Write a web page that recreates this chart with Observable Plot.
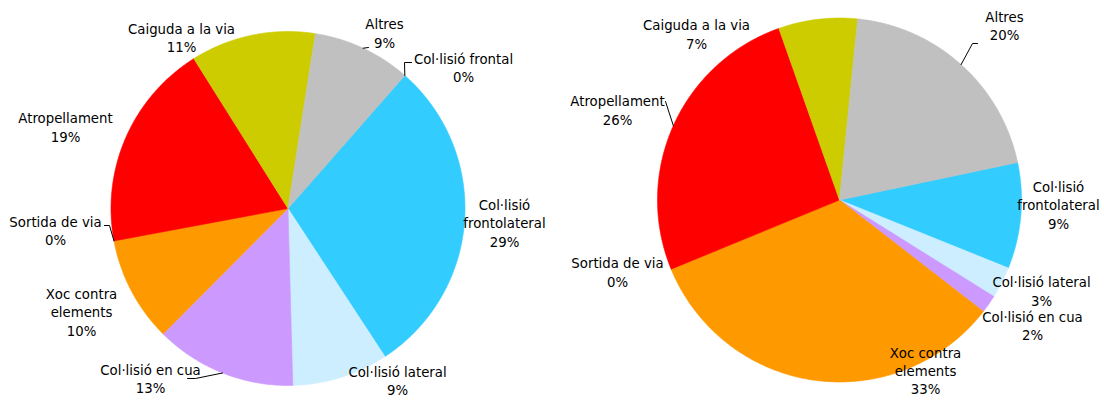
<!DOCTYPE html>
<html>
<head>
<meta charset="utf-8">
<script src="https://cdn.jsdelivr.net/npm/d3@7"></script>
<script src="https://cdn.jsdelivr.net/npm/@observablehq/plot@0.6"></script>
<style>
  html, body { margin: 0; padding: 0; background: #ffffff; }
  #chart svg { display: block; }
</style>
</head>
<body>
<div id="chart"></div>
<script>
// ---------- DATA ----------
const categories = [
  "Col·lisió frontal",
  "Col·lisió frontolateral",
  "Col·lisió lateral",
  "Col·lisió en cua",
  "Xoc contra elements",
  "Sortida de via",
  "Atropellament",
  "Caiguda a la via",
  "Altres"
];
const labelNames = [
  "Col·lisió frontal",
  "Col·lisió\nfrontolateral",
  "Col·lisió lateral",
  "Col·lisió en cua",
  "Xoc contra\nelements",
  "Sortida de via",
  "Atropellament",
  "Caiguda a la via",
  "Altres"
];
// percentages (left pie, right pie); null = not in that chart
const valuesLeft  = [0, 29.3, 8.8, 12.9, 9.6, 0, 19.0, 11.4, 9.0];
const valuesRight = [null, 9.4, 2.8, 1.6, 33.3, 0, 25.8, 7.0, 20.1];

// ---------- STYLE / LAYOUT ----------
const colors = ["#00ccff", "#33ccff", "#cceeff", "#cc99ff", "#ff9900", "#993300", "#ff0000", "#cccc00", "#c0c0c0"];
const W = 1104, H = 401;
const FONT = "DejaVu Sans, Verdana, sans-serif";

const pies = [
  {
    id: "L", cx: 287.5, cy: 208, r: 177, start: 41.3, values: valuesLeft,
    labelPos: [[463, 66.5], [504, 222], [397, 379.5], [150, 377.5], [81, 311], [55, 229.5], [65, 126], [181, 36.5], [384, 32]],
    // leader lines: category index -> extra points after the slice edge point
    leaders: { 0: [[404, 62], [411, 62]], 8: [[368, 47]], 5: [[109, 225], [104, 225]], 3: [[195, 378], [187, 378]] }
  },
  {
    id: "R", cx: 839, cy: 199.5, r: 182, start: 78.1, values: valuesRight,
    labelPos: [null, [1058, 204], [1041, 290], [1032, 324.5], [925, 369.5], [617, 271], [617, 109], [696, 33], [1004, 24.5]],
    leaders: { 8: [[972, 43], [977, 43]], 6: [[665, 101]] }
  }
];

// ---------- GEOMETRY (derived from data) ----------
const rad = d => d * Math.PI / 180;
const polar = (p, angDeg, rr) => [p.cx + rr * Math.sin(rad(angDeg)), p.cy - rr * Math.cos(rad(angDeg))];

const slicePts = [];
const labels = [];
const leaderPts = [];
for (const p of pies) {
  let a = p.start;
  p.values.forEach((v, i) => {
    if (v == null) return;
    const sweep = v / 100 * 360;
    const a0 = a, a1 = a + sweep;
    const key = p.id + i;
    if (sweep > 0) {
      slicePts.push({key, cat: categories[i], x: p.cx, y: p.cy});
      const n = Math.max(2, Math.ceil(sweep / 0.5));
      for (let k = 0; k <= n; k++) {
        const [x, y] = polar(p, a0 + sweep * k / n, p.r);
        slicePts.push({key, cat: categories[i], x, y});
      }
      slicePts.push({key, cat: categories[i], x: p.cx, y: p.cy});
    }
    const mid = (a0 + a1) / 2;
    if (p.labelPos[i]) {
      labels.push({x: p.labelPos[i][0], y: p.labelPos[i][1], text: `${labelNames[i]}\n${Math.round(v)}%`});
    }
    if (p.leaders[i]) {
      const [ex, ey] = polar(p, mid, p.r);
      leaderPts.push({key, x: ex, y: ey});
      for (const [x, y] of p.leaders[i]) leaderPts.push({key, x, y});
    }
    a = a1;
  });
}

const chart = Plot.plot({
  width: W,
  height: H,
  margin: 0,
  style: { background: "#ffffff", fontFamily: FONT },
  x: { domain: [0, W], range: [0, W], axis: null },
  y: { domain: [0, H], range: [0, H], axis: null },
  color: { domain: categories, range: colors, type: "ordinal" },
  marks: [
    Plot.line(slicePts, { x: "x", y: "y", z: "key", fill: "cat", stroke: "cat", strokeWidth: 0.6, curve: "linear" }),
    Plot.line(leaderPts, { x: "x", y: "y", z: "key", stroke: "#000000", strokeWidth: 1, curve: "linear" }),
    Plot.text(labels, { x: "x", y: "y", text: "text", fontSize: 13.3, fontFamily: FONT, lineHeight: 1.38, fill: "#000000", textAnchor: "middle" })
  ]
});
document.getElementById("chart").appendChild(chart);
</script>
</body>
</html>
